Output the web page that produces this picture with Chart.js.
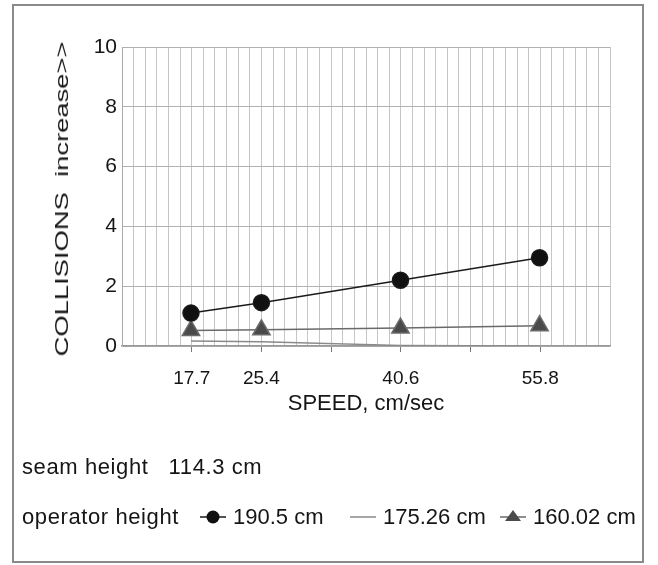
<!DOCTYPE html>
<html>
<head>
<meta charset="utf-8">
<script src="https://cdn.jsdelivr.net/npm/chart.js@4/dist/chart.umd.min.js"></script>
<style>
  body { margin:0; background:#fff; }
  #wrap { position:relative; width:658px; height:565px; font-family:"Liberation Sans", Arial, sans-serif; color:#151515; }
  #frame { position:absolute; left:12px; top:4px; border:2px solid #8a8a8a; box-sizing:border-box; width:632px; height:559px; }
  canvas { position:absolute; left:0; top:0; }
  #ytitle { position:absolute; left:62px; top:199px; font-size:19px; white-space:pre;
            transform:translate(-50%,-50%) rotate(-90deg) scaleX(1.44); }
  .note { position:absolute; left:22px; font-size:22px; letter-spacing:0.6px; white-space:pre; transform:translateY(-50%); }
  #legend { position:absolute; left:198px; top:517px; transform:translateY(-50%); display:flex; align-items:center; }
  #legend .item { display:flex; align-items:center; width:150px; font-size:22px; white-space:nowrap; }
  #legend canvas { position:static; margin-right:5px; }
</style>
</head>
<body>
<div id="wrap">
  <div id="frame"></div>
  <canvas id="c" width="658" height="565"></canvas>
  <div id="ytitle">COLLISIONS  increase&gt;&gt;</div>
  <div class="note" style="top:467px">seam height   114.3 cm</div>
  <div class="note" style="top:517px">operator height</div>
  <div id="legend"></div>
</div>
<script>
// data
const speeds = [17.7, 25.4, 40.6, 55.8];
const speedLabels = ["17.7", "25.4", "40.6", "55.8"];
const op190 = [1.1, 1.45, 2.2, 2.95];
const op175 = [0.17, 0.14, 0.02, 0];
const op160 = [0.52, 0.54, 0.6, 0.68];
const seriesNames = ["190.5 cm", "175.26 cm", "160.02 cm"];

// x axis runs 4 to 25 inch/sec, grid every half inch
const xMin = 10.16, xMax = 63.5, xStep = 1.27;

const font = "'Liberation Sans', Arial, sans-serif";
const pts = arr => arr.map((v,i)=>({x:speeds[i], y:v}));

const chart = new Chart(document.getElementById("c"), {
  type: "line",
  data: {
    datasets: [
      { label: seriesNames[0], data: pts(op190), borderColor:"#1a1a1a", backgroundColor:"#111",
        borderWidth:1.5, pointStyle:"circle", pointRadius:8, pointHoverRadius:8 },
      { label: seriesNames[1], data: pts(op175), borderColor:"#8a8a8a", backgroundColor:"#8a8a8a",
        borderWidth:1.5, pointRadius:0, pointHoverRadius:0 },
      { label: seriesNames[2], data: pts(op160), borderColor:"#6a6a6a", backgroundColor:"#4a4a4a",
        borderWidth:1.5, pointStyle:"triangle", pointRadius:10, pointHoverRadius:10 }
    ]
  },
  options: {
    responsive:false, devicePixelRatio:1, animation:false,
    layout: { padding:{ left:40, right:48, top:47, bottom:150 } },
    plugins: { legend:{ display:false }, tooltip:{ enabled:false } },
    scales: {
      x: {
        type:"linear", min:xMin, max:xMax,
        afterBuildTicks: s => {
          const t = [];
          for (let i = 0; xMin + i*xStep <= xMax + 0.001; i++) t.push({ value: xMin + i*xStep });
          s.ticks = t;
        },
        afterFit: s => { s.height = 69; },
        grid: { color:"#c6c6c6", lineWidth:1, tickLength:6,
                tickColor: c => (c.index % 6 === 0 && c.index > 0 && c.index < 42) ? "#777" : "rgba(0,0,0,0)" },
        border: { color:"#999", width:1.5 },
        ticks: {
          autoSkip:false, maxRotation:0, padding:15, color:"#151515",
          font:{ family:font, size:19 },
          callback: v => {
            const k = speeds.findIndex(s => Math.abs(s - v) < 0.3);
            return k >= 0 ? speedLabels[k] : "";
          }
        },
        title: { display:true, text:"SPEED, cm/sec", color:"#151515", padding:{top:0,bottom:0},
                 font:{ family:font, size:22, lineHeight:1 } }
      },
      y: {
        min:0, max:10,
        afterFit: s => { s.width = 82; },
        grid: { color:"#b0b0b0", lineWidth:1, drawTicks:false },
        border: { color:"#aaa", width:1 },
        ticks: { stepSize:2, padding:5, color:"#151515", font:{ family:font, size:21 } }
      }
    }
  }
});

// legend row built from the datasets
const legend = document.getElementById("legend");
chart.data.datasets.forEach(ds => {
  const item = document.createElement("div");
  item.className = "item";
  const ic = document.createElement("canvas");
  ic.width = 30; ic.height = 20;
  const g = ic.getContext("2d");
  g.strokeStyle = ds.borderColor; g.lineWidth = 1.5;
  g.beginPath(); g.moveTo(2,10); g.lineTo(28,10); g.stroke();
  g.fillStyle = ds.backgroundColor;
  if (ds.pointStyle === "circle" && ds.pointRadius > 0) {
    g.beginPath(); g.arc(15,10,6.5,0,Math.PI*2); g.fill();
  } else if (ds.pointStyle === "triangle" && ds.pointRadius > 0) {
    g.beginPath(); g.moveTo(15,3); g.lineTo(23,14); g.lineTo(7,14); g.closePath(); g.fill();
  }
  item.appendChild(ic);
  const sp = document.createElement("span");
  sp.textContent = ds.label;
  item.appendChild(sp);
  legend.appendChild(item);
});
</script>
</body>
</html>
